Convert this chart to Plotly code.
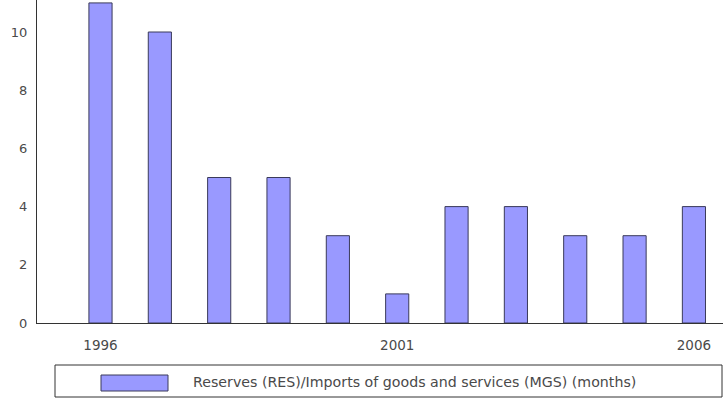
import plotly.graph_objects as go

years = [1996, 1997, 1998, 1999, 2000, 2001, 2002, 2003, 2004, 2005, 2006]
reserves_months = [11, 10, 5, 5, 3, 1, 4, 4, 3, 3, 4]
y_ticks = [0, 2, 4, 6, 8, 10]
x_ticks = [1996, 2001, 2006]
legend_label = "Reserves (RES)/Imports of goods and services (MGS) (months)"

bar_color = "#9999FF"
line_color = "#3a3a5a"
text_color = "#4a4a4a"
font = dict(family="DejaVu Sans, sans-serif", size=13.5, color=text_color)

fig = go.Figure()
fig.add_trace(go.Bar(
    x=years, y=reserves_months, width=0.39,
    marker=dict(color=bar_color, line=dict(color=line_color, width=1)),
    showlegend=False,
))

fig.update_layout(
    width=726, height=400,
    margin=dict(l=37, r=3, t=0, b=77),
    paper_bgcolor="white", plot_bgcolor="white",
    font=font,
    xaxis=dict(range=[1994.93, 2006.49], tickvals=x_ticks, ticktext=[str(v) for v in x_ticks],
               showgrid=False, zeroline=False, showline=True, linecolor="#333333",
               linewidth=1, ticks="", ticklen=0, tickfont=font, ticklabelstandoff=10),
    yaxis=dict(range=[0, 11.1], tickvals=y_ticks, showgrid=False, zeroline=False,
               showline=True, linecolor="#333333", linewidth=1, ticks="",
               tickfont=dict(family="DejaVu Sans, sans-serif", size=13, color=text_color),
               ticklabelstandoff=6),
)

# legend box drawn below the plot
fig.add_shape(type="rect", xref="paper", yref="paper",
              x0=(55 - 37) / 686, x1=(722 - 37) / 686,
              y0=-(397 - 323) / 323, y1=-(365 - 323) / 323,
              line=dict(color="#333333", width=1), fillcolor="white")
fig.add_shape(type="rect", xref="paper", yref="paper",
              x0=(101 - 37) / 686, x1=(168 - 37) / 686,
              y0=-(391 - 323) / 323, y1=-(375 - 323) / 323,
              line=dict(color=line_color, width=1), fillcolor=bar_color)
fig.add_annotation(xref="paper", yref="paper", x=(191 - 37) / 686, y=-(382 - 323) / 323,
                   text=legend_label, showarrow=False, xanchor="left", yanchor="middle",
                   font=dict(family="DejaVu Sans, sans-serif", size=14.2, color=text_color))

fig.write_html("out.html")
